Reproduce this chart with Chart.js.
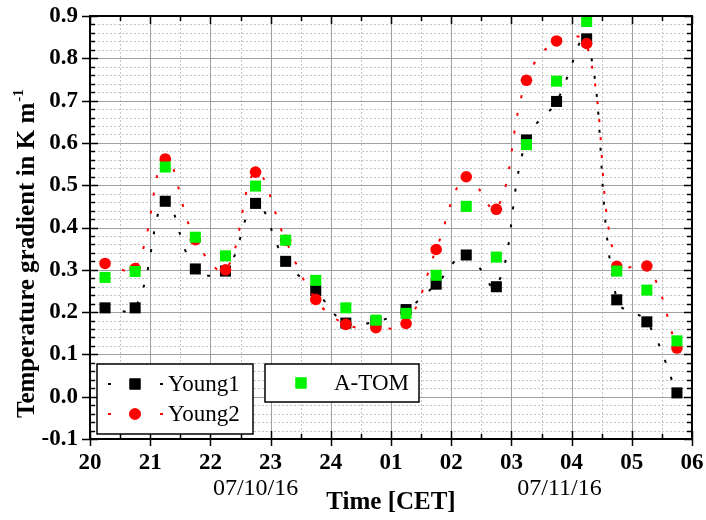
<!DOCTYPE html>
<html>
<head>
<meta charset="utf-8">
<script src="https://cdn.jsdelivr.net/npm/chart.js@4.4.1/dist/chart.umd.min.js"></script>
<style>
  html, body { margin: 0; padding: 0; background: #fff; }
  #wrap { width: 706px; height: 520px; }
</style>
</head>
<body>
<div id="wrap"><canvas id="chart"></canvas></div>
<script>
// measurement times in hours after midnight of the first day (24 = midnight)
const times = [20.25, 20.75, 21.25, 21.75, 22.25, 22.75, 23.25, 23.75, 24.25, 24.75,
               25.25, 25.75, 26.25, 26.75, 27.25, 27.75, 28.25, 28.75, 29.25, 29.75];
const young1 = [0.21, 0.21, 0.462, 0.302, 0.297, 0.457, 0.32, 0.251, 0.174, 0.178,
                0.206, 0.266, 0.335, 0.26, 0.607, 0.698, 0.846, 0.229, 0.177, 0.009];
const young2 = [0.315, 0.303, 0.562, 0.371, 0.30, 0.531, 0.37, 0.23, 0.171, 0.163,
                0.173, 0.348, 0.52, 0.443, 0.748, 0.841, 0.835, 0.308, 0.309, 0.115];
const atom   = [0.282, 0.296, 0.543, 0.377, 0.333, 0.498, 0.37, 0.275, 0.21, 0.181,
                0.197, 0.287, 0.45, 0.33, 0.596, 0.746, 0.887, 0.297, 0.252, 0.132];

const xTickValues = [20, 21, 22, 23, 24, 25, 26, 27, 28, 29, 30];
const xTickLabels = ["20", "21", "22", "23", "24", "01", "02", "03", "04", "05", "06"];
const dateLabels = ["07/10/16", "07/11/16"];
const dateAt = [22.75, 27.8];

const SERIF = "'Liberation Serif', 'Times New Roman', serif";
const dotDash = [3, 15];

function pts(vals) {
  return times.map((t, i) => ({ x: t, y: vals[i] }));
}

// grid, inward ticks and frame like the Origin plot
const frame = {
  id: "frame",
  beforeDatasetsDraw(chart) {
    const { ctx, chartArea: a, scales: { x, y } } = chart;
    ctx.save();
    ctx.lineWidth = 1;
    // minor dotted lines
    ctx.strokeStyle = "#c4c4c4";
    ctx.setLineDash([2, 2]);
    for (let k = -5; k <= 45; k++) {
      if (k % 5 === 0) continue;
      const py = Math.round(y.getPixelForValue(k * 0.02)) + 0.5;
      ctx.beginPath(); ctx.moveTo(a.left, py); ctx.lineTo(a.right, py); ctx.stroke();
    }
    for (let k = 1; k < 20; k += 2) {
      const px = Math.round(x.getPixelForValue(20 + k * 0.5)) + 0.5;
      ctx.beginPath(); ctx.moveTo(px, a.top); ctx.lineTo(px, a.bottom); ctx.stroke();
    }
    // major solid lines
    ctx.setLineDash([]);
    ctx.strokeStyle = "#a0a0a0";
    for (let k = 0; k <= 10; k++) {
      const py = Math.round(y.getPixelForValue(-0.1 + k * 0.1)) + 0.5;
      ctx.beginPath(); ctx.moveTo(a.left, py); ctx.lineTo(a.right, py); ctx.stroke();
      const px = Math.round(x.getPixelForValue(20 + k)) + 0.5;
      ctx.beginPath(); ctx.moveTo(px, a.top); ctx.lineTo(px, a.bottom); ctx.stroke();
    }
    ctx.restore();
  },
  afterDatasetsDraw(chart) {
    const { ctx, chartArea: a, scales: { x, y } } = chart;
    ctx.save();
    ctx.strokeStyle = "#000";
    ctx.lineWidth = 1.5;
    ctx.beginPath();
    for (let k = -5; k <= 45; k++) {
      const py = Math.round(y.getPixelForValue(k * 0.02)) + 0.5;
      const major = k % 5 === 0;
      ctx.moveTo(a.left - (major ? 8 : 0), py); ctx.lineTo(a.left + (major ? 8 : 5), py);
      ctx.moveTo(a.right, py); ctx.lineTo(a.right - (major ? 8 : 5), py);
    }
    for (let k = 0; k <= 20; k++) {
      const px = Math.round(x.getPixelForValue(20 + k * 0.5)) + 0.5;
      const major = k % 2 === 0;
      ctx.moveTo(px, a.top); ctx.lineTo(px, a.top + (major ? 8 : 5));
      ctx.moveTo(px, a.bottom + (major ? 7 : 0)); ctx.lineTo(px, a.bottom - (major ? 8 : 5));
    }
    ctx.stroke();
    ctx.lineWidth = 2;
    ctx.strokeRect(a.left, a.top, a.right - a.left, a.bottom - a.top);

    // y title with superscript
    ctx.fillStyle = "#000";
    ctx.translate(34, 418);
    ctx.rotate(-Math.PI / 2);
    ctx.font = "bold 25px " + SERIF;
    ctx.textBaseline = "alphabetic";
    ctx.textAlign = "left";
    const main = "Temperature gradient in K m";
    ctx.fillText(main, 0, 0);
    const w = ctx.measureText(main).width;
    ctx.font = "bold 15px " + SERIF;
    ctx.fillText("-1", w + 1, -11);
    ctx.restore();

    // dates under the hour labels
    ctx.save();
    ctx.fillStyle = "#000";
    ctx.font = "24px " + SERIF;
    ctx.textAlign = "center";
    ctx.textBaseline = "middle";
    dateLabels.forEach((d, i) => ctx.fillText(d, x.getPixelForValue(dateAt[i]), 489));
    ctx.restore();
  },
  afterDraw(chart) {
    const { ctx } = chart;
    const ds = chart.data.datasets;
    ctx.save();
    ctx.lineWidth = 1.5;
    ctx.strokeStyle = "#000";
    ctx.fillStyle = "#fff";
    ctx.fillRect(97, 364, 156, 70); ctx.strokeRect(97, 364, 156, 70);
    ctx.fillRect(265, 364, 154, 38); ctx.strokeRect(265, 364, 154, 38);
    const rows = [
      { d: ds[0], x: 135, y: 384, tx: 168 },
      { d: ds[1], x: 135, y: 414, tx: 168 },
      { d: ds[2], x: 301, y: 383, tx: 334 }
    ];
    rows.forEach(r => {
      if (r.d.showLine) {
        ctx.save();
        ctx.strokeStyle = r.d.borderColor;
        ctx.lineWidth = 2;
        ctx.setLineDash([3, 23]);
        ctx.beginPath(); ctx.moveTo(108, r.y); ctx.lineTo(164, r.y); ctx.stroke();
        ctx.restore();
      }
      ctx.fillStyle = r.d.pointBackgroundColor;
      Chart.helpers.drawPoint(ctx, { pointStyle: r.d.pointStyle, radius: r.d.pointRadius, borderWidth: 0 }, r.x, r.y);
      ctx.fill();
      ctx.fillStyle = "#000";
      ctx.font = "23px " + SERIF;
      ctx.textBaseline = "middle";
      ctx.textAlign = "left";
      ctx.fillText(r.d.label, r.tx, r.y + 1);
    });
    ctx.restore();
  }
};

new Chart(document.getElementById("chart"), {
  type: "line",
  data: {
    datasets: [
      {
        label: "Young1",
        data: pts(young1),
        showLine: true,
        borderColor: "#000",
        borderWidth: 2,
        borderDash: dotDash,
        tension: 0.4,
        pointStyle: "rect",
        pointRadius: 7.8,
        pointBackgroundColor: "#000",
        pointBorderWidth: 0,
        order: 2
      },
      {
        label: "Young2",
        data: pts(young2),
        showLine: true,
        borderColor: "#ff0000",
        borderWidth: 2,
        borderDash: dotDash,
        tension: 0.4,
        pointStyle: "circle",
        pointRadius: 5.8,
        pointBackgroundColor: "#ff0000",
        pointBorderWidth: 0,
        order: 1
      },
      {
        label: "A-TOM",
        data: pts(atom),
        showLine: false,
        pointStyle: "rect",
        pointRadius: 7.8,
        pointBackgroundColor: "#00f400",
        pointBorderWidth: 0,
        order: 0
      }
    ]
  },
  options: {
    responsive: true,
    maintainAspectRatio: false,
    animation: false,
    layout: { padding: { left: 0, right: 14, top: 16, bottom: 0 } },
    scales: {
      x: {
        type: "linear",
        min: 20,
        max: 30,
        afterBuildTicks: s => { s.ticks = xTickValues.map(v => ({ value: v })); },
        afterFit: s => { s.height = 81; s.paddingLeft = 0; s.paddingRight = 0; },
        grid: { display: false, drawTicks: false },
        border: { display: false },
        ticks: {
          color: "#000",
          padding: 10,
          maxRotation: 0,
          autoSkip: false,
          font: { family: SERIF, size: 23, weight: "bold" },
          callback: (v, i) => xTickLabels[i]
        },
        title: {
          display: true,
          text: "Time [CET]",
          color: "#000",
          padding: { top: 0, bottom: 2 },
          font: { family: SERIF, size: 25, weight: "bold" }
        }
      },
      y: {
        min: -0.1,
        max: 0.9,
        afterFit: s => { s.width = 90; s.paddingTop = 0; s.paddingBottom = 0; },
        grid: { display: false, drawTicks: false },
        border: { display: false },
        ticks: {
          stepSize: 0.1,
          color: "#000",
          padding: 12,
          font: { family: SERIF, size: 23, weight: "bold" },
          callback: v => v.toFixed(1)
        }
      }
    },
    plugins: {
      legend: { display: false },
      tooltip: { enabled: false }
    }
  },
  plugins: [frame]
});
</script>
</body>
</html>
